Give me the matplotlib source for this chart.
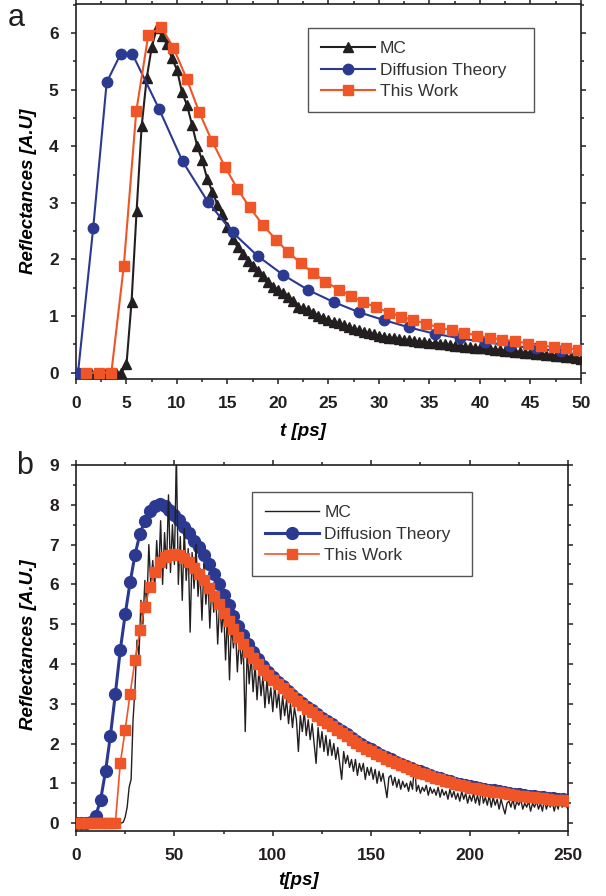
import numpy as np
import matplotlib
matplotlib.use("Agg")
import matplotlib.pyplot as plt
from matplotlib.ticker import MultipleLocator

plt.rcParams["font.family"] = ["Liberation Sans", "DejaVu Sans"]

BLACK = "#231F20"
BLUE = "#2B3990"
ORANGE = "#EF5526"

# ---------------- panel a data ----------------
t_mc_a = np.arange(1.0, 50.01, 0.5)
mc_a = [0, 0, 0, 0, 0, 0, 0, 0,
        0.15, 1.25, 2.85, 4.35, 5.2, 5.75, 6.08, 5.95, 5.8, 5.55,
        5.35, 4.95, 4.72, 4.37, 4.0, 3.75, 3.42, 3.2, 2.97, 2.8,
        2.58, 2.36, 2.22, 2.1, 1.98, 1.88, 1.79, 1.71, 1.6, 1.52,
        1.46, 1.4, 1.33, 1.26, 1.17, 1.14, 1.1, 1.05, 1.01, 0.97,
        0.93, 0.9, 0.87, 0.84, 0.81, 0.78, 0.75, 0.72, 0.7, 0.68,
        0.65, 0.64, 0.62, 0.61, 0.6, 0.58, 0.57, 0.56, 0.55, 0.54,
        0.53, 0.52, 0.51, 0.5, 0.49, 0.48, 0.47, 0.46, 0.45, 0.44,
        0.44, 0.43, 0.42, 0.41, 0.4, 0.39, 0.38, 0.37, 0.36, 0.35,
        0.35, 0.34, 0.33, 0.32, 0.31, 0.3, 0.29, 0.28, 0.27, 0.26,
        0.25]

t_diff_a = [0.2, 1.7, 3.04, 4.43, 5.58, 8.22, 10.56, 13.05, 15.5, 18.0, 20.5,
            23.0, 25.5, 28.0, 30.5, 33.0, 35.5, 38.0, 40.5, 43.0, 45.5, 48.0]
diff_a = [0, 2.55, 5.13, 5.63, 5.63, 4.66, 3.73, 3.02, 2.48, 2.06, 1.73,
          1.46, 1.25, 1.07, 0.93, 0.8, 0.69, 0.61, 0.54, 0.48, 0.43, 0.38]

t_work_a = [1.0, 2.25, 3.5, 4.73, 5.97, 7.16, 8.45, 9.64, 10.96, 12.18, 13.44,
            14.75, 15.97, 17.2, 18.5, 19.8, 21.0, 22.3, 23.5, 24.7, 26.0, 27.2,
            28.4, 29.7, 31.0, 32.2, 33.4, 34.7, 35.9, 37.2, 38.4, 39.7, 41.0,
            42.2, 43.5, 44.8, 46.0, 47.3, 48.5, 49.7]
work_a = [0, 0, 0, 1.88, 4.62, 5.96, 6.1, 5.74, 5.19, 4.61, 4.1,
          3.64, 3.25, 2.92, 2.61, 2.35, 2.13, 1.93, 1.76, 1.61, 1.47, 1.36,
          1.25, 1.155, 1.064, 0.993, 0.927, 0.869, 0.799, 0.751, 0.71, 0.657, 0.615,
          0.587, 0.557, 0.516, 0.481, 0.456, 0.433, 0.41]

# ---------------- panel b data ----------------
t_mc_b = np.arange(0, 251, 1.0)
mc_b = [0, 0, 0, 0, 0, 0, 0, 0, 0, 0,
        0, 0, 0, 0, 0, 0, 0, 0, 0, 0,
        0, 0, 0, 0, 0.02, 0.15, 0.4, 0.9, 1.1, 2.6,
        3.4, 4.6, 4.2, 5.6, 5.0, 6.1, 5.4, 7.0, 6.0, 6.6,
        5.9, 7.1, 6.2, 7.6, 6.0, 7.3, 6.4, 8.25, 6.3, 7.5,
        6.5, 9.3, 6.0, 7.2, 5.6, 7.4, 6.1, 6.9, 4.8, 6.8,
        5.9, 7.0, 5.7, 6.4, 5.1, 6.5, 5.5, 6.2, 4.9, 6.0,
        5.3, 5.8, 4.5, 5.6, 4.8, 5.4, 4.1, 5.3, 3.6, 5.0,
        4.4, 4.9, 3.8, 4.7, 4.0, 4.5, 2.3, 4.4, 3.5, 4.2,
        3.3, 4.0, 3.1, 3.9, 3.2, 3.7, 2.9, 3.6, 3.0, 3.4,
        2.8, 3.5, 2.9, 3.3, 2.6, 3.2, 2.7, 3.1, 2.5, 3.0,
        2.4, 2.9, 2.6, 1.8, 2.7, 2.3, 2.8, 2.2, 2.6, 2.1,
        2.5, 2.0, 1.5, 2.4, 1.9, 2.3, 1.8, 2.2, 1.7, 2.1,
        1.7, 2.0, 1.6, 1.9, 1.5, 1.1, 1.8, 1.5, 1.7, 1.4,
        1.6, 1.3, 1.6, 1.2, 1.5, 1.3, 1.5, 1.1, 1.4, 1.2,
        1.4, 1.1, 1.35, 1.0, 1.3, 1.05, 1.25, 0.95, 0.64, 1.15,
        1.2, 0.95, 1.15, 0.9, 1.1, 0.85, 1.05, 0.9, 1.0, 0.8,
        1.05, 0.85, 1.5, 0.8, 0.95, 0.75, 0.9, 0.8, 0.95, 0.7,
        0.9, 0.75, 0.85, 0.7, 0.9, 0.65, 0.85, 0.7, 0.8, 0.6,
        0.85, 0.65, 0.8, 0.6, 0.75, 0.55, 0.8, 0.6, 0.75, 0.5,
        0.7, 0.55, 0.75, 0.5, 0.7, 0.45, 0.9, 0.5, 0.65, 0.45,
        0.7, 0.4, 0.65, 0.45, 0.6, 0.35, 0.6, 0.4, 0.23, 0.5,
        0.55, 0.4, 0.6, 0.35, 0.55, 0.45, 0.6, 0.35, 0.5, 0.4,
        0.55, 0.3, 0.5, 0.4, 0.55, 0.35, 0.5, 0.3, 0.6, 0.35,
        0.5, 0.4, 0.55, 0.3, 0.5, 0.35, 0.6, 0.4, 0.55, 0.45,
        0.35]

t_b = np.arange(0, 250.1, 2.5)
diff_b = [0, 0, 0, 0.03, 0.18, 0.58, 1.3, 2.2, 3.25, 4.35,
          5.25, 6.05, 6.75, 7.27, 7.6, 7.84, 7.97, 8.02, 7.98, 7.88,
          7.75, 7.62, 7.45, 7.28, 7.1, 6.93, 6.73, 6.5, 6.26, 6.0,
          5.74, 5.47, 5.21, 4.96, 4.72, 4.5, 4.3, 4.12, 3.95, 3.8,
          3.67, 3.55, 3.44, 3.33, 3.23, 3.13, 3.03, 2.93, 2.84, 2.74,
          2.65, 2.56, 2.48, 2.39, 2.31, 2.23, 2.15, 2.07, 1.99, 1.92,
          1.85, 1.78, 1.72, 1.66, 1.6, 1.54, 1.49, 1.44, 1.39, 1.34,
          1.3, 1.26, 1.21, 1.17, 1.13, 1.09, 1.06, 1.02, 0.99, 0.95,
          0.92, 0.9, 0.88, 0.86, 0.84, 0.82, 0.8, 0.78, 0.76, 0.74,
          0.72, 0.71, 0.69, 0.68, 0.66, 0.65, 0.64, 0.62, 0.61, 0.6,
          0.59]
work_b = [0, 0, 0, 0, 0, 0, 0, 0, 0, 1.5,
          2.35, 3.25, 4.1, 4.85, 5.44, 5.94, 6.3, 6.55, 6.68, 6.75,
          6.77, 6.74, 6.66, 6.55, 6.42, 6.27, 6.1, 5.91, 5.71, 5.5,
          5.29, 5.08, 4.88, 4.68, 4.49, 4.31, 4.14, 3.99, 3.85, 3.72,
          3.6, 3.49, 3.39, 3.28, 3.18, 3.08, 2.98, 2.88, 2.79, 2.69,
          2.6, 2.51, 2.43, 2.34, 2.26, 2.18, 2.1, 2.02, 1.94, 1.87,
          1.8, 1.74, 1.68, 1.62, 1.57, 1.51, 1.46, 1.41, 1.36, 1.31,
          1.27, 1.23, 1.18, 1.14, 1.1, 1.06, 1.03, 0.99, 0.96, 0.92,
          0.89, 0.87, 0.85, 0.83, 0.81, 0.79, 0.77, 0.75, 0.73, 0.71,
          0.69, 0.68, 0.66, 0.65, 0.63, 0.62, 0.61, 0.59, 0.58, 0.57,
          0.56]


def style_axes(ax, xmaj, ymaj):
    ax.xaxis.set_major_locator(MultipleLocator(xmaj))
    ax.xaxis.set_minor_locator(MultipleLocator(xmaj / 2))
    ax.yaxis.set_major_locator(MultipleLocator(ymaj))
    ax.yaxis.set_minor_locator(MultipleLocator(ymaj / 2))
    ax.tick_params(which="both", direction="out", top=True, right=True,
                   labeltop=False, labelright=False, width=1.1, colors=BLACK,
                   labelsize=12.5, pad=9)
    ax.tick_params(which="major", length=3.5)
    ax.tick_params(which="minor", length=2.2)
    for lbl in ax.get_xticklabels() + ax.get_yticklabels():
        lbl.set_fontweight("bold")
    for sp in ax.spines.values():
        sp.set_linewidth(1.2)
        sp.set_color(BLACK)


def add_legend(ax, handles, labels, box):
    leg = ax.legend(handles, labels, loc="upper left", bbox_to_anchor=box,
                    mode="expand", borderaxespad=0, fontsize=12.5,
                    fancybox=False, edgecolor="#555555", handlelength=3.1,
                    labelspacing=0.36, borderpad=0.75, handletextpad=0.3,
                    framealpha=1)
    leg.get_frame().set_linewidth(1.0)
    for txt in leg.get_texts():
        txt.set_color("#333333")
    return leg


fig = plt.figure(figsize=(6.06, 8.96), dpi=100)

# ---- a ----
ax1 = fig.add_axes([0.1254, 0.5770, 0.8333, 0.4185])
ax1.plot(t_mc_a, mc_a, "-^", color=BLACK, ms=7, lw=1.5, label="MC", zorder=2)
ax1.plot(t_diff_a, diff_a, "-o", color=BLUE, ms=7.5, lw=1.5,
         label="Diffusion Theory", zorder=3)
ax1.plot(t_work_a, work_a, "-s", color=ORANGE, ms=6.8, lw=1.5,
         label="This Work", zorder=4)
ax1.set_xlim(0, 50)
ax1.set_ylim(-0.11, 6.51)
style_axes(ax1, 5, 1)
ax1.set_xlabel("t [ps]", fontsize=13.5, fontweight="bold", fontstyle="italic")
ax1.set_ylabel("Reflectances [A.U]", fontsize=13.5, fontweight="bold",
               fontstyle="italic")
ax1.xaxis.set_label_coords(0.45, -0.117)
ax1.yaxis.set_label_coords(-0.077, 0.5)
h, l = ax1.get_legend_handles_labels()
add_legend(ax1, h, l, (0.459, 0.5, 0.4475, 0.436))

# ---- b ----
ax2 = fig.add_axes([0.1254, 0.0725, 0.8119, 0.4085])
ax2.plot(t_b, diff_b, "-o", color=BLUE, ms=8.5, lw=2.2,
         label="Diffusion Theory", zorder=2)
ax2.plot(t_mc_b, mc_b, "-", color=BLACK, lw=1.0, label="MC", zorder=3)
ax2.plot(t_b, work_b, "-s", color=ORANGE, ms=7.5, lw=1.2,
         label="This Work", zorder=4)
ax2.set_xlim(0, 250)
ax2.set_ylim(-0.2, 9)
style_axes(ax2, 50, 1)
ax2.set_xlabel("t[ps]", fontsize=13.5, fontweight="bold", fontstyle="italic")
ax2.set_ylabel("Reflectances [A.U.]", fontsize=13.5, fontweight="bold",
               fontstyle="italic")
ax2.xaxis.set_label_coords(0.453, -0.113)
ax2.yaxis.set_label_coords(-0.079, 0.51)
h, l = ax2.get_legend_handles_labels()
add_legend(ax2, [h[1], h[0], h[2]], [l[1], l[0], l[2]],
           (0.358, 0.5, 0.447, 0.426))

fig.text(0.013, 0.997, "a", fontsize=22, va="top", ha="left", color=BLACK)
fig.text(0.027, 0.497, "b", fontsize=22, va="top", ha="left", color=BLACK)

fig.savefig("out.png", dpi=100)
